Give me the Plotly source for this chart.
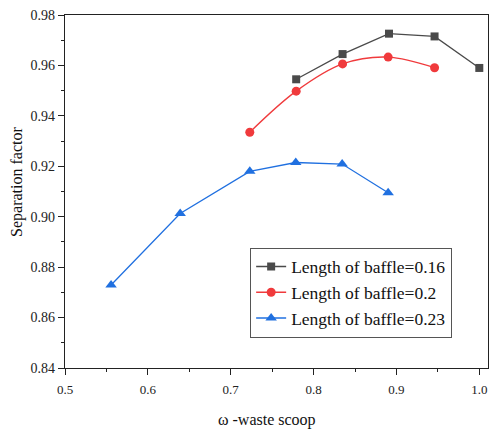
import plotly.graph_objects as go

x_016 = [0.779, 0.835, 0.891, 0.946, 1.000]
y_016 = [0.9545, 0.9645, 0.9726, 0.9715, 0.9590]

x_02 = [0.723, 0.779, 0.835, 0.890, 0.946]
y_02 = [0.9335, 0.9498, 0.9606, 0.9633, 0.9591]

x_023 = [0.5556, 0.639, 0.723, 0.7785, 0.8345, 0.890]
y_023 = [0.8729, 0.9013, 0.9180, 0.9215, 0.9209, 0.9095]

names = ["Length of baffle=0.16", "Length of baffle=0.2", "Length of baffle=0.23"]
x_ticks = [0.5, 0.6, 0.7, 0.8, 0.9, 1.0]
x_ticklabels = ["0.5", "0.6", "0.7", "0.8", "0.9", "1.0"]
y_ticks = [0.84, 0.86, 0.88, 0.90, 0.92, 0.94, 0.96, 0.98]
y_ticklabels = ["0.84", "0.86", "0.88", "0.90", "0.92", "0.94", "0.96", "0.98"]

font_family = "Liberation Serif"

fig = go.Figure()
fig.add_trace(go.Scatter(x=x_016, y=y_016, name=names[0], mode="lines+markers",
                         line=dict(color="#4a4a4a", width=1.3),
                         marker=dict(symbol="square", size=8, color="#4a4a4a")))
fig.add_trace(go.Scatter(x=x_02, y=y_02, name=names[1], mode="lines+markers",
                         line=dict(color="#f03a3c", width=1.3, shape="spline"),
                         marker=dict(symbol="circle", size=9, color="#f03a3c")))
fig.add_trace(go.Scatter(x=x_023, y=y_023, name=names[2], mode="lines+markers",
                         line=dict(color="#2070e0", width=1.3),
                         marker=dict(symbol="triangle-up", size=10, color="#2070e0")))

fig.update_layout(
    width=489, height=432,
    margin=dict(l=65, r=1, t=15, b=64),
    plot_bgcolor="white", paper_bgcolor="white",
    font=dict(family=font_family, size=14, color="#222"),
    showlegend=True,
    legend=dict(x=0.4377, y=0.341, xanchor="left", yanchor="top",
                bordercolor="#555", borderwidth=1, bgcolor="white",
                font=dict(family=font_family, size=17.5, color="#111"),
                tracegroupgap=0, itemsizing="trace"),
    xaxis=dict(range=[0.5, 1.0105], tickvals=x_ticks, ticktext=x_ticklabels,
               showgrid=False, zeroline=False, showline=True, linecolor="#222",
               linewidth=1.3, mirror=True, ticks="outside", ticklen=6, tickcolor="#222",
               ticklabelstandoff=3,
               tickfont=dict(family=font_family, size=13, color="#222"),
               minor=dict(ticks="outside", ticklen=3, dtick=0.05, tickcolor="#222", showgrid=False)),
    yaxis=dict(range=[0.84, 0.98], tickvals=y_ticks, ticktext=y_ticklabels,
               showgrid=False, zeroline=False, showline=True, linecolor="#222",
               linewidth=1.3, mirror=True, ticks="outside", ticklen=6, tickcolor="#222",
               tickfont=dict(family=font_family, size=14, color="#222"),
               minor=dict(ticks="outside", ticklen=3, dtick=0.01, tickcolor="#222", showgrid=False)),
    annotations=[
        dict(text="ω -waste scoop", xref="paper", yref="paper", x=(267 - 65) / 422.7, y=-(420 - 368) / 353,
             xanchor="center", yanchor="middle", showarrow=False,
             font=dict(family=font_family, size=16, color="#111")),
        dict(text="Separation factor", xref="paper", yref="paper", x=-(65 - 17) / 422.7, y=(368 - 182) / 353,
             xanchor="center", yanchor="middle", showarrow=False, textangle=-90,
             font=dict(family=font_family, size=16, color="#111")),
    ],
)

fig.write_html("out.html")
